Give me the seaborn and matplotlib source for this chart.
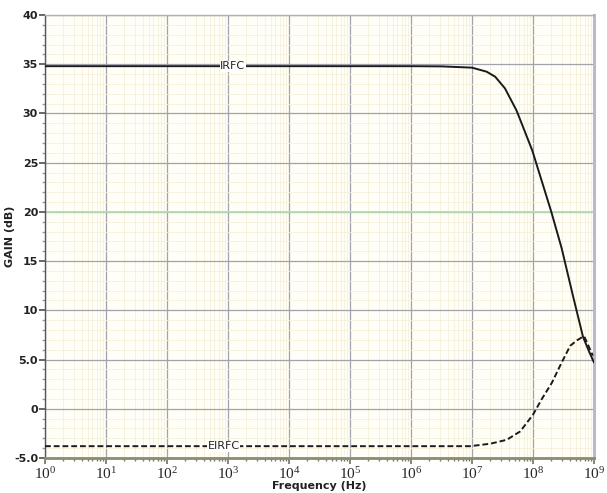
import numpy as np
import pandas as pd
import matplotlib
matplotlib.use("Agg")
import matplotlib.pyplot as plt
import seaborn as sns
from matplotlib.ticker import FixedLocator, FuncFormatter, MultipleLocator

# Values (x given as log10 of frequency in Hz)
irfc_exp = [0, 1, 2, 3, 4, 5, 6, 6.5, 7.0, 7.24, 7.38, 7.54, 7.73, 7.87, 7.99, 8.14, 8.3, 8.47, 8.65, 8.82, 8.92, 9.0]
irfc_gain = [34.8, 34.8, 34.8, 34.8, 34.8, 34.8, 34.8, 34.78, 34.65, 34.24, 33.73, 32.55, 30.3, 28.1, 26.2, 23.2, 20.0, 16.3, 11.6, 7.3, 5.8, 4.7]

eirfc_exp = [0, 1, 2, 3, 4, 5, 6, 6.97, 7.3, 7.57, 7.79, 8.0, 8.14, 8.31, 8.47, 8.61, 8.72, 8.8, 8.84, 8.98]
eirfc_gain = [-3.8, -3.8, -3.8, -3.8, -3.8, -3.8, -3.8, -3.8, -3.55, -3.15, -2.3, -0.6, 0.95, 2.65, 4.7, 6.4, 6.95, 7.25, 7.35, 5.4]

ref_level = 20.0
y_ticks = [-5, 0, 5, 10, 15, 20, 25, 30, 35, 40]
y_tick_labels = ["-5.0", "0", "5.0", "10", "15", "20", "25", "30", "35", "40"]
x_decades = list(range(0, 10))

df = pd.concat([
    pd.DataFrame({"freq": 10.0 ** np.array(irfc_exp), "gain": irfc_gain, "trace": "IRFC"}),
    pd.DataFrame({"freq": 10.0 ** np.array(eirfc_exp), "gain": eirfc_gain, "trace": "EIRFC"}),
])

sns.set_theme(style="white")
plt.rcParams["font.family"] = ["DejaVu Sans"]
plt.rcParams["mathtext.fontset"] = "stix"

fig = plt.figure(figsize=(6.07, 4.93), dpi=100)
ax = fig.add_axes([0.0741, 0.071, 0.9045, 0.8986])
ax.set_facecolor("#fffef7")

sns.lineplot(data=df, x="freq", y="gain", hue="trace", style="trace",
             palette={"IRFC": "#1a1a1a", "EIRFC": "#1a1a1a"},
             dashes={"IRFC": "", "EIRFC": (3, 1.5)},
             linewidth=1.4, legend=False, ax=ax, zorder=3)
ax.axhline(ref_level, color="#b4dbb4", linewidth=1.3, zorder=2)

ax.set_xscale("log")
ax.set_xlim(1, 1e9)
ax.set_ylim(-5, 40)

ax.xaxis.set_major_locator(FixedLocator([10.0 ** d for d in x_decades]))
ax.xaxis.set_major_formatter(FuncFormatter(lambda v, p: r"$\mathregular{10^{%d}}$" % round(np.log10(v))))
minor_x = [m * 10.0 ** d for d in x_decades[:-1] for m in range(2, 10)]
ax.xaxis.set_minor_locator(FixedLocator(minor_x))
ax.set_yticks(y_ticks)
ax.set_yticklabels(y_tick_labels)
ax.yaxis.set_minor_locator(MultipleLocator(1))

ax.grid(which="minor", color="#f6efdb", linewidth=0.6, zorder=0)
ax.grid(which="major", color="#a2a2ad", linewidth=0.9, zorder=1)

ax.tick_params(axis="x", which="major", length=4, color="#777766", labelsize=11, pad=2)
ax.tick_params(axis="x", which="minor", length=2, color="#777766")
ax.tick_params(axis="y", which="major", length=4, color="#555555", labelsize=8, pad=1)
ax.tick_params(axis="y", which="minor", length=2, color="#999999")
ax.tick_params(bottom=True, left=True, which="both")
for lab in ax.get_xticklabels():
    lab.set_fontfamily("Liberation Serif")
for lab in ax.get_yticklabels():
    lab.set_fontweight("semibold")
    lab.set_color("#222222")

ax.spines["left"].set_color("#555566")
ax.spines["left"].set_linewidth(1.0)
ax.spines["bottom"].set_color("#8c8c72")
ax.spines["bottom"].set_linewidth(2.0)
ax.spines["right"].set_color("#b9b9d2")
ax.spines["right"].set_linewidth(2.2)
ax.spines["top"].set_color("#b0b0b8")
ax.spines["top"].set_linewidth(1.0)

box = dict(facecolor="white", edgecolor="none", pad=0.5)
ax.text(10 ** 3.08, irfc_gain[3], "IRFC", ha="center", va="center", fontsize=8,
        color="#222222", bbox=box, zorder=4)
ax.text(10 ** 2.93, eirfc_gain[3], "EIRFC", ha="center", va="center", fontsize=8,
        color="#222222", bbox=box, zorder=4)

ax.set_xlabel("Frequency (Hz)", fontsize=8, fontweight="bold", color="#222222")
ax.xaxis.set_label_coords(0.5, -0.052)
ax.set_ylabel("GAIN (dB)", fontsize=8, fontweight="bold", color="#222222")
ax.yaxis.set_label_coords(-0.055, 0.5)

fig.savefig("out.png", dpi=100)
